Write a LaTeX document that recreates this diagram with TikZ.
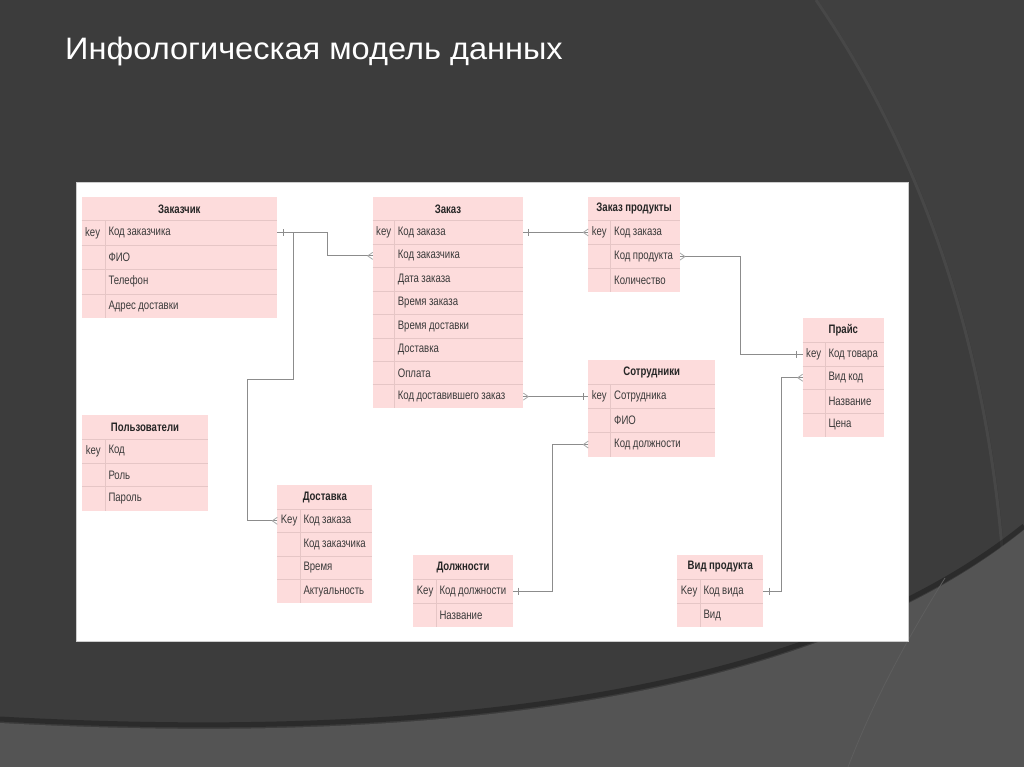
\documentclass[tikz,border=0pt]{standalone}
\usepackage{fontspec}
\usetikzlibrary{calc}
\newfontfamily\tabfont{Liberation Sans}[FakeStretch=0.78]
\newfontfamily\titlefont{Liberation Sans}[FakeStretch=1.05]
\newcommand{\tabsize}{\fontsize{12.3}{14}\selectfont}
\newcommand{\tsp}{\spaceskip=2.4pt plus 0.5pt minus 0.3pt\relax}
\definecolor{bgbase}{HTML}{3C3C3C}
\definecolor{bgright}{HTML}{404040}
\definecolor{bgarc}{HTML}{474747}
\definecolor{bglight}{HTML}{545454}
\definecolor{bgline}{HTML}{5E5E5E}
\definecolor{pinkc}{HTML}{FDDCDC}
\definecolor{sepc}{HTML}{E6C6C6}
\definecolor{celltext}{HTML}{3A3A3A}
\definecolor{connc}{HTML}{8C8C8C}
\definecolor{crowc}{HTML}{A8A8A8}
\tikzset{
  cellbase/.style={anchor=north west, fill=pinkc, inner xsep=3.5pt, inner ysep=0pt, outer sep=0pt,
    font=\tabfont\tabsize, text=celltext},
  hdrcell/.style={cellbase, align=center, font=\tabfont\bfseries\tabsize, text=black!85},
  keycell/.style={cellbase, align=left},
  fieldcell/.style={cellbase, align=left},
  sepline/.style={draw=sepc, line width=0.8pt},
  conn/.style={draw=connc, line width=0.9pt},
  crow/.style={draw=crowc, line width=0.8pt},
}
\newcommand{\erhead}[6]{%
  \pgfmathsetmacro\ertw{#4-7}%
  \node[hdrcell, text width=\ertw pt, minimum height=#5pt] (#1) at (#2,#3) {\tsp #6};}
\newcommand{\errow}[8]{%
  \pgfmathsetmacro\erkw{#4-7}%
  \pgfmathsetmacro\erfw{#5-7}%
  \node[keycell, text width=\erkw pt, minimum height=#6pt] (#1k) at (#2,#3) {#7};
  \node[fieldcell, text width=\erfw pt, minimum height=#6pt] (#1) at (#1k.north east) {\tsp #8};
  \draw[sepline] (#1k.north west) -- (#1.north east);
  \draw[sepline] (#1k.north east) -- (#1k.south east);}
\newcommand{\tickmark}[2]{\draw[conn] ($(#1)+(#2,-3.5)$) -- ($(#1)+(#2,3.5)$);}
\newcommand{\crowmark}[2]{\draw[crow] ($(#1)+(#2*5,0)$) -- ($(#1)+(0,-3.5)$) ($(#1)+(#2*5,0)$) -- ($(#1)+(0,3.5)$);}
\begin{document}
\begin{tikzpicture}[x=1pt,y=-1pt]
\useasboundingbox (0,0) rectangle (1024,767);
% background
\fill[bgbase] (0,0) rectangle (1024,767);
\fill[bgright] (818,0) .. controls (900,120) and (985,300) .. (1005,560) -- (1024,560) -- (1024,0) -- cycle;
\draw[bgarc, line width=3pt] (816,0) .. controls (898,120) and (983,300) .. (1003,560);
\draw[black!80!bgbase, line width=5pt, opacity=0.35] (0,719) .. controls (400,741) and (800,706) .. (1024,526);
\fill[bglight] (0,723) .. controls (400,745) and (800,710) .. (1024,530) -- (1024,767) -- (0,767) -- cycle;
\draw[bgline, line width=0.8pt] (945,578) .. controls (900,650) and (870,710) .. (848,767);
% title
\node[anchor=base west, inner sep=0pt, text=white, font=\titlefont\fontsize{31}{37}\selectfont] (title) at (65,60) {Инфологическая модель данных};
% white panel
\fill[white, draw=black!20, line width=0.6pt] (76,182) rectangle (908,641);

% Заказчик
\erhead{zk}{81.7}{197.3}{195.3}{23.4}{Заказчик}
\errow{zk1}{81.7}{220.7}{23.3}{172}{24.4}{key}{Код заказчика}
\errow{zk2}{81.7}{245.1}{23.3}{172}{24.4}{}{ФИО}
\errow{zk3}{81.7}{269.5}{23.3}{172}{24.4}{}{Телефон}
\errow{zk4}{81.7}{293.9}{23.3}{172}{24.4}{}{Адрес доставки}

% Заказ
\erhead{z}{372.7}{197.3}{150.6}{23.4}{Заказ}
\errow{z1}{372.7}{220.7}{21.6}{129}{23.45}{key}{Код заказа}
\errow{z2}{372.7}{244.15}{21.6}{129}{23.45}{}{Код заказчика}
\errow{z3}{372.7}{267.6}{21.6}{129}{23.45}{}{Дата заказа}
\errow{z4}{372.7}{291.05}{21.6}{129}{23.45}{}{Время заказа}
\errow{z5}{372.7}{314.5}{21.6}{129}{23.45}{}{Время доставки}
\errow{z6}{372.7}{337.95}{21.6}{129}{23.45}{}{Доставка}
\errow{z7}{372.7}{361.4}{21.6}{129}{23.45}{}{Оплата}
\errow{z8}{372.7}{384.85}{21.6}{129}{23.45}{}{Код доставившего заказ}

% Заказ продукты
\erhead{zp}{588.3}{196.7}{91.7}{24}{Заказ продукты}
\errow{zp1}{588.3}{220.7}{22.4}{69.3}{23.9}{key}{Код заказа}
\errow{zp2}{588.3}{244.6}{22.4}{69.3}{23.9}{}{Код продукта}
\errow{zp3}{588.3}{268.5}{22.4}{69.3}{23.9}{}{Количество}

% Прайс
\erhead{pr}{802.7}{318.3}{81.3}{24}{Прайс}
\errow{pr1}{802.7}{342.3}{22.3}{59}{23.6}{key}{Код товара}
\errow{pr2}{802.7}{365.9}{22.3}{59}{23.6}{}{Вид код}
\errow{pr3}{802.7}{389.5}{22.3}{59}{23.6}{}{Название}
\errow{pr4}{802.7}{413.1}{22.3}{59}{23.6}{}{Цена}

% Сотрудники
\erhead{st}{588.3}{360}{126.7}{24.3}{Сотрудники}
\errow{st1}{588.3}{384.3}{22.4}{104.3}{24.1}{key}{Сотрудника}
\errow{st2}{588.3}{408.4}{22.4}{104.3}{24.1}{}{ФИО}
\errow{st3}{588.3}{432.5}{22.4}{104.3}{24.1}{}{Код должности}

% Пользователи
\erhead{pu}{82.3}{415}{125.4}{24}{Пользователи}
\errow{pu1}{82.3}{439}{22.7}{102.7}{23.9}{key}{Код}
\errow{pu2}{82.3}{462.9}{22.7}{102.7}{23.9}{}{Роль}
\errow{pu3}{82.3}{486.8}{22.7}{102.7}{23.9}{}{Пароль}

% Доставка
\erhead{dv}{277.3}{485}{95}{24}{Доставка}
\errow{dv1}{277.3}{509}{22.7}{72.3}{23.6}{Key}{Код заказа}
\errow{dv2}{277.3}{532.6}{22.7}{72.3}{23.6}{}{Код заказчика}
\errow{dv3}{277.3}{556.2}{22.7}{72.3}{23.6}{}{Время}
\errow{dv4}{277.3}{579.8}{22.7}{72.3}{23.6}{}{Актуальность}

% Должности
\erhead{dl}{413.3}{555}{99.4}{24}{Должности}
\errow{dl1}{413.3}{579}{22.7}{76.7}{24.2}{Key}{Код должности}
\errow{dl2}{413.3}{603.2}{22.7}{76.7}{24.2}{}{Название}

% Вид продукта
\erhead{vp}{677.3}{555}{86}{24}{Вид продукта}
\errow{vp1}{677.3}{579}{22.7}{63.3}{24.2}{Key}{Код вида}
\errow{vp2}{677.3}{603.2}{22.7}{63.3}{24.2}{}{Вид}

% connectors
\draw[conn] (zk1.east) -- ++(50,0) |- (z2k.west);
\tickmark{zk1.east}{6}
\crowmark{z2k.west}{-1}
\coordinate (b1) at ($(zk1.east)+(16.5,0)$);
\coordinate (c1) at (247.7,379);
\draw[conn] (b1) |- (c1) |- (dv1k.west);
\crowmark{dv1k.west}{-1}

\coordinate (e2) at (z1.east -| zp1k.west);
\draw[conn] (z1.east) -- (e2);
\tickmark{z1.east}{5}
\crowmark{e2}{-1}

\coordinate (e3) at (z8.east -| st1k.west);
\draw[conn] (z8.east) -- (e3);
\crowmark{z8.east}{1}
\tickmark{e3}{-5}

\draw[conn] (zp2.east) -- ++(60,0) |- (pr1k.west);
\crowmark{zp2.east}{1}
\tickmark{pr1k.west}{-6}

\draw[conn] (st3k.west) -- ++(-36,0) |- (dl1.east);
\crowmark{st3k.west}{-1}
\tickmark{dl1.east}{6}

\draw[conn] (pr2k.west) -- ++(-21,0) |- (vp1.east);
\crowmark{pr2k.west}{-1}
\tickmark{vp1.east}{6}
\end{tikzpicture}
\end{document}
